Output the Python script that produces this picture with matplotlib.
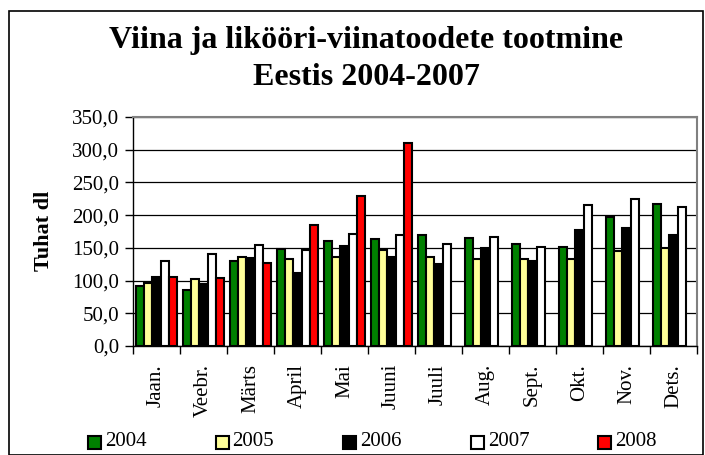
import matplotlib
matplotlib.use("Agg")
import matplotlib.pyplot as plt
import numpy as np
from matplotlib.patches import Rectangle

plt.rcParams['font.family'] = ['Liberation Serif', 'DejaVu Serif']

months = ["Jaan.", "Veebr.", "Märts", "April", "Mai", "Juuni", "Juuli",
          "Aug.", "Sept.", "Okt.", "Nov.", "Dets."]
years = ["2004", "2005", "2006", "2007", "2008"]
v2004 = [91.7, 85.6, 130.4, 147.7, 161.0, 164.0, 169.0, 165.0, 155.9, 151.8, 197.7, 217.0]
v2005 = [95.8, 101.9, 136.5, 132.5, 136.5, 146.7, 136.5, 132.5, 132.5, 133.5, 145.7, 149.8]
v2006 = [106.0, 94.8, 134.5, 111.0, 152.8, 135.5, 125.3, 149.8, 130.4, 177.3, 180.3, 170.0]
v2007 = [130.4, 140.6, 154.9, 146.7, 171.2, 169.0, 155.9, 167.0, 150.8, 216.0, 224.1, 211.9]
v2008 = [106.0, 103.9, 126.3, 185.4, 229.2, 310.7, None, None, None, None, None, None]
series = [v2004, v2005, v2006, v2007, v2008]
colors = ["#008000", "#FFFF99", "#000000", "#FFFFFF", "#FF0000"]

W, H = 705, 455
fig = plt.figure(figsize=(W / 100, H / 100), dpi=100)
bl, bt, br, bb = 8.5, 10.5, 702.5, 454.5
fig.patches.append(Rectangle((bl / W, 1 - bb / H), (br - bl) / W, (bb - bt) / H,
                             transform=fig.transFigure, fill=False,
                             edgecolor="black", linewidth=1.2))

left, right, top, bottom = 133, 697, 117, 346
ax = fig.add_axes([left / W, (H - bottom) / H, (right - left) / W, (bottom - top) / H])

x = np.arange(len(months))
w = 0.178
for k, (vals, c) in enumerate(zip(series, colors)):
    xs = [xi + (k - 2) * w for xi, v in zip(x, vals) if v is not None]
    ys = [v for v in vals if v is not None]
    ax.bar(xs, ys, width=w, color=c, edgecolor="black", linewidth=1.5, zorder=3)

ax.set_xlim(-0.5, len(months) - 0.5)
ax.set_ylim(0, 350)
ax.set_yticks(np.arange(0, 351, 50))
ax.set_yticklabels([f"{v:.1f}".replace(".", ",") for v in np.arange(0, 351, 50)], fontsize=15)
ax.yaxis.grid(True, color="black", linewidth=0.9, zorder=0)
ax.set_axisbelow(True)

ax.set_xticks(x)
ax.set_xticklabels(months, rotation=90, fontsize=15)
ax.tick_params(axis="x", which="major", length=0, pad=13)
ax.set_xticks(np.arange(-0.5, len(months), 1), minor=True)
ax.tick_params(axis="x", which="minor", length=6, width=1, direction="out", color="black")
ax.tick_params(axis="y", length=6, width=1, direction="out", color="black", pad=4)

for s in ["top", "right"]:
    ax.spines[s].set_color("#808080")
    ax.spines[s].set_linewidth(1.5)
for s in ["left", "bottom"]:
    ax.spines[s].set_color("black")
    ax.spines[s].set_linewidth(1.0)

fig.text(44 / W, 1 - 231 / H, "Tuhat dl", rotation=90, ha="center", va="center",
         fontsize=16, fontweight="bold")

fig.text(366 / W, 1 - 48 / H, "Viina ja likööri-viinatoodete tootmine",
         ha="center", va="baseline", fontsize=23, fontweight="bold")
fig.text(366 / W, 1 - 85 / H, "Eestis 2004-2007",
         ha="center", va="baseline", fontsize=23, fontweight="bold")

for i, (yr, c) in enumerate(zip(years, colors)):
    x0 = 88 + 127.6 * i
    fig.patches.append(Rectangle((x0 / W, 1 - 449 / H), 13 / W, 13 / H,
                                 transform=fig.transFigure, facecolor=c,
                                 edgecolor="black", linewidth=1.5))
    fig.text((x0 + 17) / W, 1 - 442 / H, yr, ha="left", va="center", fontsize=15)

fig.savefig("out.png", dpi=100)
